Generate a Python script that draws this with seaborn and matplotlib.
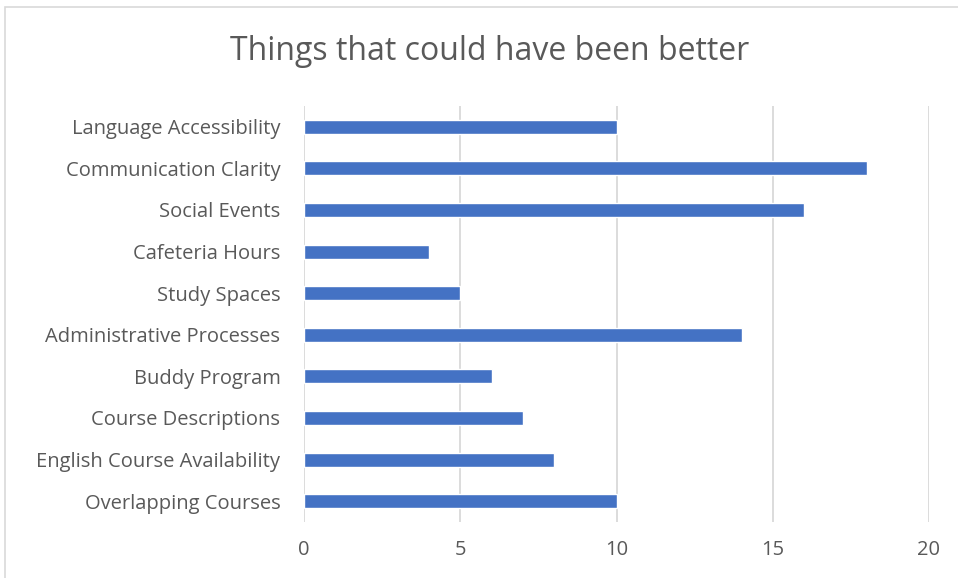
import matplotlib
matplotlib.use("Agg")
import matplotlib.pyplot as plt
import seaborn as sns
import pandas as pd
from matplotlib.patches import Rectangle

categories = [
    "Language Accessibility",
    "Communication Clarity",
    "Social Events",
    "Cafeteria Hours",
    "Study Spaces",
    "Administrative Processes",
    "Buddy Program",
    "Course Descriptions",
    "English Course Availability",
    "Overlapping Courses",
]
counts = [10, 18, 16, 4, 5, 14, 6, 7, 8, 10]
x_ticks = [0, 5, 10, 15, 20]

df = pd.DataFrame({"category": categories, "count": counts})

sns.set_theme(style="white")
plt.rcParams["font.family"] = ["Open Sans", "DejaVu Sans"]

W, H = 958, 578
fig = plt.figure(figsize=(W / 100, H / 100), dpi=100)
ax = fig.add_axes([304 / W, 1 - 522 / H, (929 - 304) / W, (522 - 106) / H])

sns.barplot(data=df, x="count", y="category", orient="h", color="#4472C4",
            width=0.34, saturation=1, ax=ax)

text_color = "#595959"
ax.set_xlim(0, 20)
ax.set_xticks(x_ticks)
ax.set_xticklabels([str(t) for t in x_ticks], fontsize=14.5, color=text_color)
ax.tick_params(axis="y", labelsize=14.5, labelcolor=text_color, length=0, pad=17)
ax.tick_params(axis="x", length=0, pad=13)
ax.set_xlabel("")
ax.set_ylabel("")
ax.set_ylim(len(categories) - 0.5, -0.5)
for x in x_ticks:
    ax.axvline(x, color="#D9D9D9", lw=1.3, zorder=0)
for s in ax.spines.values():
    s.set_visible(False)

fig.text(490 / W, 1 - 51 / H, "Things that could have been better",
         ha="center", va="center", fontsize=23, color=text_color)

# chart frame
fig.patches.append(Rectangle((5 / W, -0.01), 1.0, 1 - 7 / H + 0.01,
                             transform=fig.transFigure, fill=False,
                             edgecolor="#D9D9D9", lw=1.2))

fig.savefig("out.png", dpi=100, facecolor="white")
